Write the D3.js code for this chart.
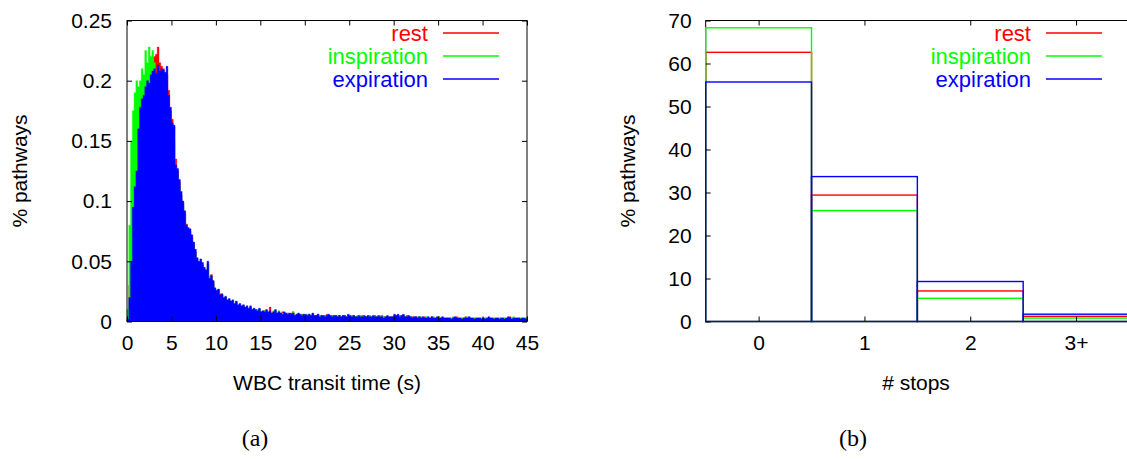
<!DOCTYPE html>
<html>
<head>
<meta charset="utf-8">
<script src="https://cdn.jsdelivr.net/npm/d3@7"></script>
<style>
  body { margin: 0; background: #fff; }
  svg text { font-family: "Liberation Sans", Arial, sans-serif; }
</style>
</head>
<body>
<svg id="fig" width="1127" height="459"></svg>
<script>
// ---- data ----
const seriesNames = ["rest", "inspiration", "expiration"]

// (a) transit time histograms, 0.2 s bins from 0 to 45 s, values in units of 0.001 %
const binWidth = 0.2
const restTransit = [
  3, 30, 70, 105, 120, 135, 160, 175, 183, 190,
  198, 203, 205, 210, 215, 220, 222, 228, 215, 212,
  210, 206, 205, 192, 175, 168, 162, 135, 125, 116,
  105, 98, 90, 81, 76, 75, 70, 65, 58, 52,
  49, 50, 47, 44, 42, 48, 37, 39, 33, 27,
  25, 26, 23, 22, 19, 20, 17, 18, 16, 17,
  14, 16, 13, 14, 12, 13, 11, 12, 10, 12,
  10, 10, 9, 9, 10, 8, 8, 9, 9, 7,
  12, 7, 8, 9, 7, 8, 6, 8, 7, 6,
  7, 6, 7, 8, 5, 6, 6, 5, 6, 5,
  5, 5, 6, 5, 6, 5, 5, 6, 4, 5,
  4, 5, 6, 5, 4, 5, 4, 5, 4, 5,
  4, 5, 4, 4, 5, 4, 4, 5, 4, 4,
  4, 4, 5, 4, 4, 4, 5, 4, 4, 5,
  4, 4, 4, 5, 4, 4, 4, 3, 4, 4,
  5, 5, 5, 4, 5, 5, 4, 5, 4, 4,
  4, 3, 4, 3, 4, 3, 3, 4, 3, 3,
  3, 4, 3, 3, 3, 4, 3, 3, 3, 3,
  3, 3, 3, 3, 3, 4, 3, 3, 3, 3,
  4, 3, 3, 3, 3, 3, 2, 3, 3, 3,
  3, 3, 2, 3, 3, 3, 3, 2, 3, 3,
  2, 3, 3, 2, 3, 4, 3, 3, 2, 3,
  3, 3, 3, 2, 3
]
const inspirationTransit = [
  10, 80, 150, 175, 190, 200, 195, 200, 210, 205,
  225, 215, 228, 220, 225, 215, 205, 210, 195, 200,
  195, 190, 185, 175, 165, 155, 150, 128, 120, 112,
  102, 95, 88, 78, 74, 72, 68, 62, 57, 50,
  47, 48, 46, 42, 40, 46, 38, 36, 32, 27,
  25, 25, 21, 22, 19, 20, 17, 18, 16, 17,
  14, 16, 13, 14, 12, 13, 11, 12, 10, 12,
  9, 11, 9, 10, 10, 8, 8, 9, 9, 7,
  8, 7, 9, 8, 7, 9, 6, 7, 7, 6,
  7, 6, 6, 8, 5, 6, 6, 5, 6, 6,
  5, 6, 5, 5, 6, 5, 4, 5, 5, 5,
  4, 5, 5, 5, 4, 5, 5, 4, 5, 4,
  4, 4, 5, 4, 5, 4, 5, 4, 4, 5,
  4, 5, 4, 4, 4, 4, 5, 4, 4, 4,
  4, 4, 5, 4, 4, 4, 4, 4, 3, 4,
  5, 4, 5, 5, 4, 5, 4, 4, 4, 4,
  3, 4, 3, 4, 3, 4, 3, 3, 4, 3,
  3, 3, 4, 3, 3, 4, 3, 3, 3, 3,
  3, 3, 3, 4, 3, 3, 3, 2, 3, 3,
  3, 4, 3, 3, 2, 3, 3, 3, 2, 3,
  2, 3, 3, 3, 3, 2, 3, 3, 2, 3,
  3, 2, 3, 3, 3, 2, 3, 4, 3, 2,
  3, 3, 2, 3, 3
]
const expirationTransit = [
  2, 20, 50, 95, 112, 125, 160, 178, 185, 188,
  195, 200, 198, 205, 208, 210, 206, 213, 208, 210,
  209, 207, 212, 188, 178, 165, 163, 130, 127, 118,
  108, 100, 92, 80, 78, 77, 72, 66, 60, 53,
  50, 52, 49, 45, 43, 50, 36, 38, 34, 28,
  26, 27, 22, 23, 20, 21, 18, 19, 17, 18,
  15, 17, 14, 15, 13, 14, 12, 13, 11, 13,
  10, 11, 10, 9, 11, 8, 9, 8, 10, 8,
  9, 7, 8, 10, 7, 8, 7, 6, 8, 7,
  6, 7, 6, 7, 5, 6, 7, 6, 5, 6,
  6, 5, 6, 5, 7, 5, 5, 6, 4, 5,
  5, 4, 5, 6, 5, 4, 5, 5, 4, 5,
  4, 5, 5, 4, 6, 5, 4, 5, 4, 4,
  5, 4, 4, 5, 4, 5, 4, 4, 5, 4,
  4, 5, 4, 4, 3, 4, 5, 4, 4, 4,
  6, 5, 6, 4, 5, 6, 4, 4, 5, 4,
  3, 4, 4, 3, 4, 3, 4, 3, 3, 4,
  3, 4, 3, 3, 4, 3, 3, 4, 3, 3,
  3, 3, 2, 3, 4, 3, 3, 3, 2, 3,
  3, 3, 4, 3, 3, 2, 3, 3, 3, 2,
  3, 2, 3, 4, 3, 3, 2, 3, 3, 2,
  3, 3, 2, 3, 4, 3, 2, 3, 3, 3,
  3, 2, 3, 3, 2
]
const transitXTicks = [0, 5, 10, 15, 20, 25, 30, 35, 40, 45]
const transitYTicks = [0, 0.05, 0.1, 0.15, 0.2, 0.25]

// (b) number of stops, % pathways
const stopCategories = ["0", "1", "2", "3+"]
const restStops = [62.6, 29.4, 7.1, 1.2]
const inspirationStops = [68.3, 25.8, 5.4, 0.8]
const expirationStops = [55.7, 33.7, 9.3, 1.7]
const stopsYTicks = [0, 10, 20, 30, 40, 50, 60, 70]

// ---- styles ----
const colors = ["#ff0000", "#00ff00", "#0000ff"]
const fontSize = 21
const legendSize = 22
const tickLen = 5

const svg = d3.select("#fig")

function frame(g, x, y) {
  const [x0, x1] = x.range()
  const [y0, y1] = y.range()
  g.append("rect")
    .attr("x", x0).attr("y", y1)
    .attr("width", x1 - x0).attr("height", y0 - y1)
    .attr("fill", "none").attr("stroke", "#000").attr("stroke-width", 1)
}

function styleAxis(sel) {
  sel.select(".domain").remove()
  sel.selectAll("text").attr("font-size", fontSize).attr("fill", "#000")
    .style("font-family", "'Liberation Sans', Arial, sans-serif")
  sel.selectAll("line").attr("stroke", "#000")
}

function legend(g, right, lineX0, lineX1) {
  seriesNames.forEach((name, i) => {
    const yy = 33 + i * 23
    g.append("text")
      .attr("x", right).attr("y", yy + 8)
      .attr("text-anchor", "end").attr("font-size", legendSize)
      .attr("fill", colors[i]).text(name)
    g.append("line")
      .attr("x1", lineX0).attr("x2", lineX1)
      .attr("y1", yy).attr("y2", yy)
      .attr("stroke", colors[i]).attr("stroke-width", 1.6)
  })
}

// ---- panel (a) ----
const xA = d3.scaleLinear().domain([0, 45]).range([127, 527])
const yA = d3.scaleLinear().domain([0, 0.25]).range([321.5, 20.5])
const panelA = svg.append("g")

const area = d3.area()
  .x(d => xA(d[0]))
  .y0(yA(0))
  .y1(d => yA(d[1] / 1000))
  .curve(d3.curveStepAfter)

;[restTransit, inspirationTransit, expirationTransit].forEach((vals, s) => {
  const pts = vals.map((v, i) => [i * binWidth, v])
  pts.push([vals.length * binWidth, vals[vals.length - 1]])
  panelA.append("path")
    .attr("d", area(pts))
    .attr("fill", colors[s])
    .attr("stroke", colors[s]).attr("stroke-width", 0.4)
})

panelA.append("g").attr("transform", `translate(0,${yA(0)})`)
  .call(d3.axisBottom(xA).tickValues(transitXTicks).tickSizeInner(-tickLen).tickSizeOuter(0).tickPadding(14))
  .call(styleAxis)
panelA.append("g").attr("transform", `translate(0,${yA(0.25)})`)
  .call(d3.axisTop(xA).tickValues(transitXTicks).tickSizeInner(-tickLen).tickSizeOuter(0).tickFormat(""))
  .call(styleAxis)
panelA.append("g").attr("transform", `translate(${xA(0)},0)`)
  .call(d3.axisLeft(yA).tickValues(transitYTicks).tickSizeInner(-tickLen).tickSizeOuter(0).tickPadding(15).tickFormat(d3.format("")))
  .call(styleAxis)
panelA.append("g").attr("transform", `translate(${xA(45)},0)`)
  .call(d3.axisRight(yA).tickValues(transitYTicks).tickSizeInner(-tickLen).tickSizeOuter(0).tickFormat(""))
  .call(styleAxis)
frame(panelA, xA, yA)
legend(panelA, 428, 443, 499)

panelA.append("text").attr("x", 327).attr("y", 390)
  .attr("text-anchor", "middle").attr("font-size", fontSize).text("WBC transit time (s)")
panelA.append("text").attr("transform", "translate(27,171) rotate(-90)")
  .attr("text-anchor", "middle").attr("font-size", fontSize).text("% pathways")
panelA.append("text").attr("x", 255).attr("y", 446)
  .attr("text-anchor", "middle").attr("font-size", 24)
  .style("font-family", "'Liberation Serif', serif").text("(a)")

// ---- panel (b) ----
const xB = d3.scaleLinear().domain([-0.5, 3.5]).range([705.7, 1129])
const yB = d3.scaleLinear().domain([0, 70]).range([321.5, 20.5])
const panelB = svg.append("g")

frame(panelB, xB, yB)

;[restStops, inspirationStops, expirationStops].forEach((vals, s) => {
  panelB.append("g").selectAll("rect")
    .data(vals)
    .join("rect")
    .attr("x", (d, i) => xB(i - 0.5))
    .attr("width", xB(1) - xB(0))
    .attr("y", d => yB(d))
    .attr("height", d => yB(0) - yB(d))
    .attr("fill", "none")
    .attr("stroke", colors[s]).attr("stroke-width", 1.4)
})

const catTicks = stopCategories.map((c, i) => i)
panelB.append("g").attr("transform", `translate(0,${yB(0)})`)
  .call(d3.axisBottom(xB).tickValues(catTicks).tickSizeInner(-tickLen).tickSizeOuter(0).tickPadding(14)
    .tickFormat(i => stopCategories[i]))
  .call(styleAxis)
panelB.append("g").attr("transform", `translate(0,${yB(70)})`)
  .call(d3.axisTop(xB).tickValues(catTicks).tickSizeInner(-tickLen).tickSizeOuter(0).tickFormat(""))
  .call(styleAxis)
panelB.append("g").attr("transform", `translate(${xB(-0.5)},0)`)
  .call(d3.axisLeft(yB).tickValues(stopsYTicks).tickSizeInner(-tickLen).tickSizeOuter(0).tickPadding(14))
  .call(styleAxis)
legend(panelB, 1031, 1046, 1102)

panelB.append("text").attr("x", 916).attr("y", 390)
  .attr("text-anchor", "middle").attr("font-size", fontSize).text("# stops")
panelB.append("text").attr("transform", "translate(635,171) rotate(-90)")
  .attr("text-anchor", "middle").attr("font-size", fontSize).text("% pathways")
panelB.append("text").attr("x", 853).attr("y", 446)
  .attr("text-anchor", "middle").attr("font-size", 24)
  .style("font-family", "'Liberation Serif', serif").text("(b)")
</script>
</body>
</html>
